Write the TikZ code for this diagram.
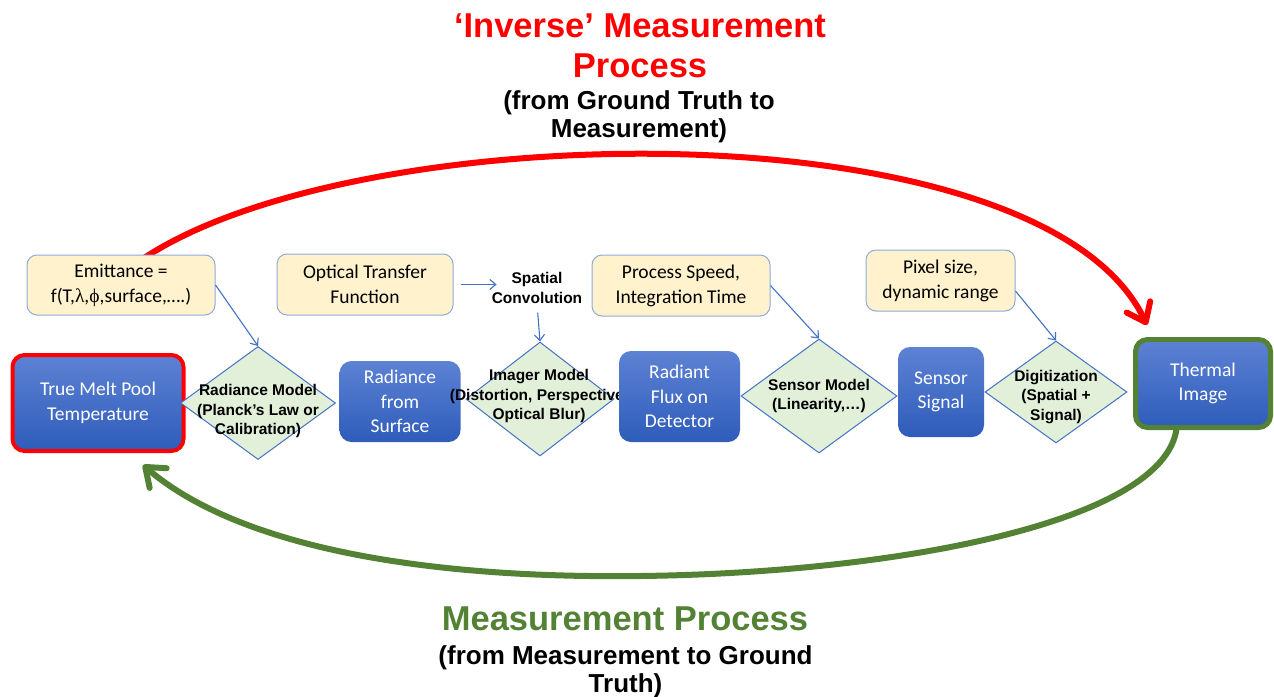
\documentclass[tikz,border=0pt]{standalone}
\usepackage{fontspec}
\setmainfont{Liberation Sans}
\newfontfamily\calfont{Carlito}
\newfontfamily\grkfont{Liberation Serif}
\usetikzlibrary{shapes.geometric,arrows.meta,backgrounds}

\definecolor{boxtop}{RGB}{93,130,212}
\definecolor{boxbot}{RGB}{46,92,186}
\definecolor{noteFill}{RGB}{255,242,204}
\definecolor{noteLine}{RGB}{143,170,220}
\definecolor{decFill}{RGB}{226,240,217}
\definecolor{decLine}{RGB}{68,114,196}
\definecolor{linkBlue}{RGB}{68,114,196}
\definecolor{fwdRed}{RGB}{255,0,0}
\definecolor{measGreen}{RGB}{84,130,53}

\tikzset{
  stage/.style={rectangle, rounded corners=12pt, top color=boxtop, bottom color=boxbot,
    text=white, font=\calfont\fontsize{19.5}{24.5}\selectfont, align=center, inner sep=0pt},
  note/.style={rectangle, rounded corners=10pt, fill=noteFill, draw=noteLine, line width=1pt,
    font=\calfont\fontsize{19.5}{25}\selectfont, align=center, inner sep=0pt},
  decision/.style={diamond, fill=decFill, draw=decLine, line width=1pt, inner sep=0pt},
  dectext/.style={font=\bfseries\fontsize{15.5}{19.5}\selectfont, align=center, inner sep=0pt},
  link/.style={draw=linkBlue, line width=1.1pt, -{Straight Barb[length=6pt,width=10pt]}},
  bigarrow/.style={line width=6pt, -{Straight Barb[length=17pt,width=26pt,round]}},
  bigtitle/.style={font=\bfseries\fontsize{34.5}{40}\selectfont, align=center, inner sep=0pt},
  subtitle/.style={font=\bfseries\fontsize{26}{28}\selectfont, align=center, inner sep=0pt},
}

\begin{document}
\begin{tikzpicture}[x=1pt,y=-1pt]
\useasboundingbox (0,0) rectangle (1274,696);

% process chain
\node[stage, minimum width=171pt, minimum height=96pt, draw=fwdRed, line width=4pt] (tmp) at (98,403) {True Melt Pool\\Temperature};
\node[decision, minimum width=155pt, minimum height=113pt] (rm) at (258,403) {};
\node[dectext] (rmt) at (258,411) {Radiance Model\\(Planck’s Law or\\Calibration)};
\node[stage, minimum width=121pt, minimum height=81pt] (rfs) at (400,401.5) {Radiance\\from\\Surface};
\node[decision, minimum width=148pt, minimum height=114pt] (im) at (540,399) {};
\node[dectext] (imt) at (539,396) {Imager Model\\(Distortion, Perspective,\\Optical Blur)};
\node[stage, minimum width=121pt, minimum height=91pt] (rfd) at (679.5,396.5) {Radiant\\Flux on\\Detector};
\node[decision, minimum width=156pt, minimum height=114pt] (smd) at (819,396) {};
\node[dectext] (smt) at (819,396) {Sensor Model\\(Linearity,…)};
\node[stage, minimum width=86pt, minimum height=90pt] (ss) at (941,392) {Sensor\\Signal};
\node[decision, minimum width=142pt, minimum height=102pt] (dig) at (1056,392) {};
\node[dectext] (digt) at (1056,397) {Digitization\\(Spatial +\\Signal)};
\node[stage, minimum width=135pt, minimum height=88pt, draw=measGreen, line width=5pt] (therm) at (1203,383.5) {Thermal\\Image};

% influencing factors
\node[note, minimum width=188pt, minimum height=60pt] (emit) at (121,285) {Emittance =\\f(T,{\grkfont λ},{\grkfont ϕ},surface,….)};
\node[note, minimum width=176pt, minimum height=61pt] (otf) at (365,284.5) {Optical Transfer\\Function};
\node[dectext] (sc) at (537,288) {Spatial\\Convolution};
\node[note, minimum width=178pt, minimum height=61pt] (psit) at (681,285.5) {Process Speed,\\Integration Time};
\node[note, minimum width=149pt, minimum height=61pt] (pix) at (940.5,280.5) {Pixel size,\\dynamic range};

\draw[link] (emit.east) -- (rm.north);
\draw[link, shorten <=7pt, shorten >=-5pt] (otf.east) -- (otf.east -| sc.west);
\draw[link, shorten <=9pt] (sc.south) -- (im.north);
\draw[link] (psit.east) -- (smd.north);
\draw[link] (pix.-8) -- (dig.north);

% titles (base anchor sits on the last line)
\node[bigtitle, text=fwdRed, anchor=base] (inv) at (640,77) {‘Inverse’ Measurement\\Process};
\node[subtitle, anchor=base] (invsub) at (639,137) {(from Ground Truth to\\Measurement)};
\node[bigtitle, text=measGreen, anchor=base] (meas) at (625,630) {Measurement Process};
\node[subtitle, anchor=base] (meassub) at (625.5,692) {(from Measurement to Ground\\Truth)};

% the two process loops
\coordinate (rs) at (130,268);
\coordinate (re) at (1147,325);
\coordinate (gs) at (1177,420);
\coordinate (gm) at (640,576);
\coordinate (ge) at (143,465);
\begin{pgfonlayer}{background}
\fill[white] (0,0) rectangle (1274,696);
\draw[bigarrow, fwdRed] (rs) .. controls (330,115) and (1040,100) .. (re);
\draw[bigarrow, measGreen] (gs) .. controls (1180,520) and (900,573) .. (gm)
  .. controls (400,579) and (230,540) .. (ge);
\end{pgfonlayer}
\end{tikzpicture}
\end{document}
